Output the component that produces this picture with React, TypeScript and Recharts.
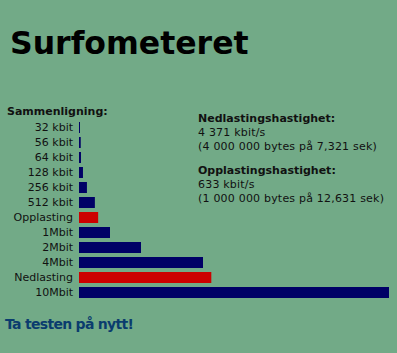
import React from 'react';
import { BarChart, Bar, XAxis, YAxis, Cell } from 'recharts';

const categories = [
  '32 kbit', '56 kbit', '64 kbit', '128 kbit', '256 kbit', '512 kbit',
  'Opplasting', '1Mbit', '2Mbit', '4Mbit', 'Nedlasting', '10Mbit',
];
const speeds = [32, 56, 64, 128, 256, 512, 618, 1000, 2000, 4000, 4268, 10000];
const measured = ['Opplasting', 'Nedlasting'];

const BG = '#72aa87';
const NAVY = '#000066';
const RED = '#cc0000';
const FONT = '"DejaVu Sans", Verdana, sans-serif';

const data = categories.map((name, i) => ({ name, value: speeds[i] }));

export default function App() {
  return (
    <div
      style={{
        position: 'absolute',
        left: 0,
        top: 0,
        width: 397,
        height: 353,
        background: BG,
        fontFamily: FONT,
        color: '#111',
        overflow: 'hidden',
      }}
    >
      <div
        style={{
          position: 'absolute',
          left: 10,
          top: 23,
          fontSize: 31.5,
          fontWeight: 'bold',
          lineHeight: '40px',
          color: '#000',
        }}
      >
        Surfometeret
      </div>

      <div style={{ position: 'absolute', left: 0, top: 0 }}>
        <BarChart
          width={397}
          height={305}
          data={data}
          layout="vertical"
          margin={{ top: 120, right: 8, bottom: 5, left: 0 }}
        >
          <XAxis type="number" domain={[0, 10000]} hide />
          <YAxis
            type="category"
            dataKey="name"
            width={79}
            tickSize={0}
            tickMargin={6}
            axisLine={false}
            tickLine={false}
            interval={0}
            tick={{ fill: '#111', fontSize: 11, fontFamily: FONT }}
          />
          <Bar dataKey="value" barSize={11} isAnimationActive={false}>
            {data.map((d, i) => (
              <Cell key={`cell-${i}`} fill={measured.includes(d.name) ? RED : NAVY} />
            ))}
          </Bar>
        </BarChart>
      </div>

      <div
        style={{
          position: 'absolute',
          left: 7,
          top: 105,
          fontSize: 11,
          fontWeight: 'bold',
          lineHeight: '14px',
        }}
      >
        Sammenligning:
      </div>

      <div
        style={{
          position: 'absolute',
          left: 198,
          top: 112,
          fontSize: 11,
          letterSpacing: '0.2px',
          lineHeight: '14px',
        }}
      >
        <div style={{ fontWeight: 'bold', letterSpacing: 0 }}>Nedlastingshastighet:</div>
        <div>4 371 kbit/s</div>
        <div>(4 000 000 bytes på 7,321 sek)</div>
        <div style={{ height: 10 }} />
        <div style={{ fontWeight: 'bold', letterSpacing: 0 }}>Opplastingshastighet:</div>
        <div>633 kbit/s</div>
        <div>(1 000 000 bytes på 12,631 sek)</div>
      </div>

      <div
        style={{
          position: 'absolute',
          left: 5,
          top: 315,
          fontSize: 14,
          fontWeight: 'bold',
          letterSpacing: '-0.7px',
          lineHeight: '18px',
          color: '#0a3c6e',
        }}
      >
        Ta testen på nytt!
      </div>
    </div>
  );
}
